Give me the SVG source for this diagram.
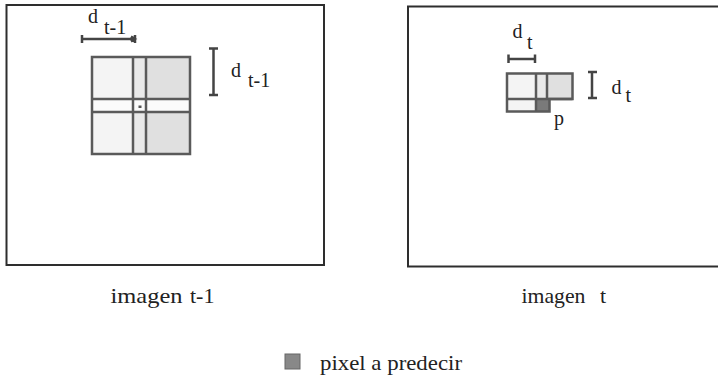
<svg xmlns="http://www.w3.org/2000/svg" width="718" height="379" viewBox="0 0 718 379">
<style>
  .frame { fill: none; stroke: #2e2e2e; stroke-width: 2; }
  .cellline { fill: none; stroke: #5a5a5a; stroke-width: 2.5; }
  .light { fill: #f4f4f4; }
  .med { fill: #e9e9e9; }
  .dense { fill: #e0e0e0; }
  .blank { fill: #fbfbfb; }
  .dim { fill: none; stroke: #444; stroke-width: 2.5; }
  .lbl { font-family: "Liberation Serif", "DejaVu Serif", serif; fill: #222; font-size: 20px; }
  .cap { font-family: "Liberation Serif", "DejaVu Serif", serif; fill: #222; font-size: 22px; }
</style>
<rect width="718" height="379" fill="#ffffff"/>

<g id="frame-left">
  <rect class="frame" x="6.5" y="5" width="317.5" height="260"/>
</g>
<g id="frame-right">
  <rect class="frame" x="408" y="6.5" width="320" height="260"/>
</g>

<g id="grid-left">
  <rect class="light" x="92" y="57" width="41" height="42"/>
  <rect class="med" x="133" y="57" width="13" height="42"/>
  <rect class="dense" x="146" y="57" width="44" height="42"/>
  <rect class="blank" x="92" y="99" width="41" height="13"/>
  <rect class="blank" x="133" y="99" width="13" height="13"/>
  <rect class="blank" x="146" y="99" width="44" height="13"/>
  <rect class="light" x="92" y="112" width="41" height="42"/>
  <rect class="med" x="133" y="112" width="13" height="42"/>
  <rect class="dense" x="146" y="112" width="44" height="42"/>
  <rect fill="#555" x="138.5" y="105.5" width="3" height="2.5"/>
  <line class="cellline" x1="133" y1="57" x2="133" y2="154"/>
  <line class="cellline" x1="146" y1="57" x2="146" y2="154"/>
  <line class="cellline" x1="92" y1="99" x2="190" y2="99"/>
  <line class="cellline" x1="92" y1="112" x2="190" y2="112"/>
  <rect class="cellline" x="92" y="57" width="98" height="97"/>
</g>

<g id="grid-right">
  <rect class="light" x="507" y="73.5" width="29" height="25.5"/>
  <rect class="med" x="536" y="73.5" width="11" height="25.5"/>
  <rect class="dense" x="547" y="73.5" width="25.5" height="25.5"/>
  <rect class="light" x="507" y="99" width="29" height="12.5"/>
  <rect fill="#7a7a7a" x="536" y="99" width="13.5" height="12.5"/>
  <line class="cellline" x1="536" y1="73.5" x2="536" y2="111.5"/>
  <line class="cellline" x1="547" y1="73.5" x2="547" y2="99"/>
  <line class="cellline" x1="507" y1="99" x2="572.5" y2="99"/>
  <path class="cellline" d="M507,73.5 H572.5 V99 H549.5 V111.5 H507 Z"/>
</g>

<g id="dimensions">
  <path class="dim" d="M82,39 H135 M82,35 V43 M135,35 V43 M131,36.5 L135,39 L131,41.5"/>
  <path class="dim" d="M213.5,48.5 V95 M209,48.5 H218 M209,95 H218"/>
  <path class="dim" d="M508.5,59 H535 M508.5,54.5 V63 M535,54.5 V63"/>
  <path class="dim" d="M592,72 V98 M588,72 H597 M588,98 H597"/>
</g>

<g id="labels">
  <text class="lbl" x="88" y="23">d</text>
  <text class="lbl" x="104" y="34">t-1</text>
  <text class="lbl" x="231" y="77">d</text>
  <text class="lbl" x="248" y="87">t-1</text>
  <text class="lbl" x="512.5" y="38">d</text>
  <text class="lbl" x="527" y="49">t</text>
  <text class="lbl" x="611.5" y="93.5">d</text>
  <text class="lbl" x="625.5" y="101.5">t</text>
  <text class="lbl" x="554" y="125">p</text>
  <text class="cap" x="110.5" y="303" textLength="72" lengthAdjust="spacingAndGlyphs">imagen</text>
  <text class="cap" x="190" y="303">t-1</text>
  <text class="cap" x="521.5" y="303" textLength="64" lengthAdjust="spacingAndGlyphs">imagen</text>
  <text class="cap" x="600" y="303">t</text>
</g>

<g id="legend">
  <rect x="285" y="354" width="15" height="15" fill="#888" stroke="#666" stroke-width="1"/>
  <text class="cap" x="320" y="370" style="font-size:21px" textLength="142" lengthAdjust="spacingAndGlyphs">pixel a predecir</text>
</g>
</svg>
